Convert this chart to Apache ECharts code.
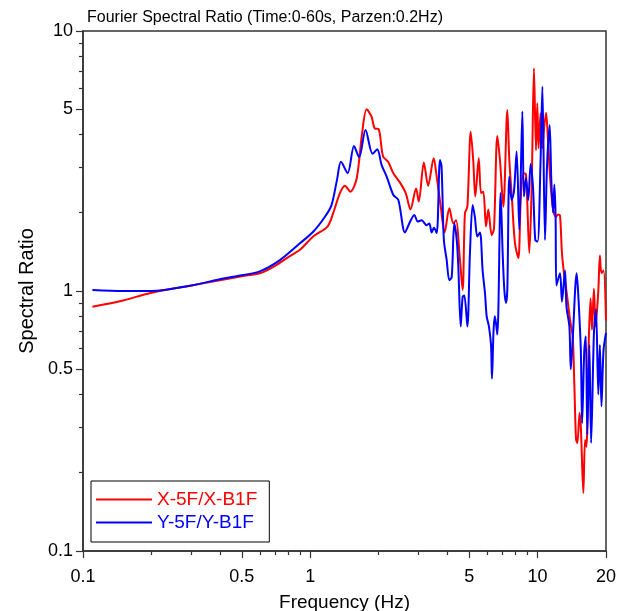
<!DOCTYPE html>
<html>
<head>
<meta charset="utf-8">
<script src="https://cdn.jsdelivr.net/npm/echarts@6/dist/echarts.min.js"></script>
<style>
  html, body { margin: 0; padding: 0; background: #fff; }
  #chart { width: 617px; height: 611px; }
</style>
</head>
<body>
<div id="chart"></div>
<script>
// X-5F/X-B1F (red)
const freqX = [0.11, 0.15, 0.2, 0.3, 0.4, 0.5, 0.6, 0.7, 0.8, 0.9, 1.03, 1.19, 1.26, 1.35, 1.42, 1.5, 1.6, 1.69, 1.77, 1.86, 1.92, 2.0,
  2.09, 2.2, 2.32, 2.49, 2.63, 2.76, 2.92, 3.0, 3.16, 3.3, 3.49, 3.6, 3.75, 3.9, 4.09, 4.26, 4.38, 4.53, 4.68, 4.79, 4.91,
  5.08, 5.21, 5.32, 5.51, 5.64, 5.77, 5.93, 6.07, 6.28, 6.43, 6.65, 6.83, 7.07, 7.36, 7.51, 7.72, 7.95, 8.23, 8.43, 8.66,
  8.89, 9.2, 9.42, 9.64, 9.84, 9.97, 10.1, 10.3, 10.5, 10.7, 10.9, 11.1, 11.3, 11.65, 12.05, 12.3, 12.55, 12.8, 13.07,
  13.5, 13.9, 14.27, 14.5, 14.76, 14.96, 15.3, 15.5, 15.9, 16.17, 16.4, 16.8, 17.1, 17.35, 17.7, 18.0, 18.5, 18.8, 19.1, 19.5, 20]
const ratioX = [0.87, 0.92, 0.985, 1.05, 1.1, 1.14, 1.17, 1.25, 1.35, 1.44, 1.62, 1.77, 1.99, 2.38, 2.54, 2.41, 2.71, 4.04, 5.0, 4.68, 4.22, 4.19,
  3.29, 3.14, 2.84, 2.6, 2.38, 2.06, 2.48, 2.21, 3.12, 2.54, 3.24, 2.75, 2.11, 1.68, 2.08, 1.82, 1.87, 1.4, 1.01, 1.99, 2.11,
  4.1, 3.19, 2.31, 3.24, 2.38, 2.41, 1.77, 2.06, 1.64, 1.74, 3.95, 3.19, 2.11, 4.97, 3.19, 2.24, 1.53, 1.34, 2.24, 2.84,
  2.81, 1.4, 2.52, 7.19, 3.48, 5.27, 3.54, 4.82, 3.54, 4.29, 4.85, 3.87, 2.92, 2.11, 1.93, 1.97, 1.95, 1.4, 1.17,
  0.95, 0.77, 0.67, 0.45, 0.27, 0.26, 0.34, 0.3, 0.167, 0.267, 0.252, 0.648, 0.937, 0.71, 1.02, 0.73, 1.0, 1.37, 1.17, 1.2, 0.77]

// Y-5F/Y-B1F (blue)
const freqY = [0.11, 0.15, 0.2, 0.3, 0.4, 0.5, 0.6, 0.735, 0.9, 1.03, 1.16, 1.24, 1.31, 1.365, 1.46, 1.557, 1.64, 1.75, 1.88, 1.97,
  2.06, 2.17, 2.32, 2.44, 2.61, 2.75, 2.87, 2.97, 3.09, 3.25, 3.34, 3.42, 3.5, 3.6, 3.72, 3.78, 3.87, 3.98, 4.09, 4.19, 4.3,
  4.41, 4.48, 4.59, 4.68, 4.76, 4.91, 5.04, 5.18, 5.3, 5.43, 5.58, 5.73, 5.87, 5.97, 6.11, 6.24, 6.3, 6.4, 6.49, 6.65, 6.88,
  7.02, 7.14, 7.26, 7.36, 7.51, 7.69, 7.87, 8.09, 8.31, 8.57, 8.71, 8.89, 9.1, 9.32, 9.55, 9.77, 10.0, 10.3, 10.5, 10.78,
  11.0, 11.3, 11.5, 11.7, 11.85, 12.0, 12.1, 12.55, 12.8, 13.2, 13.4, 13.8, 14.0, 14.27, 14.86, 15.1, 15.5, 15.7, 16.05,
  16.3, 16.55, 16.9, 17.2, 17.7, 18.07, 18.5, 18.8, 19.1, 19.5, 20]
const ratioY = [1.01, 1.0, 1.0, 1.05, 1.11, 1.15, 1.19, 1.315, 1.525, 1.69, 1.93, 2.14, 2.67, 3.14, 2.84, 3.61, 3.27, 4.16, 3.37, 3.51,
  3.05, 2.75, 2.34, 2.24, 1.68, 1.85, 1.96, 1.85, 1.87, 1.79, 1.82, 1.68, 1.75, 1.67, 3.19, 3.01, 1.57, 1.32, 1.1, 1.13, 1.82,
  1.57, 1.24, 0.73, 0.95, 0.96, 0.73, 1.4, 2.14, 1.92, 1.62, 1.68, 1.2, 0.98, 0.8, 0.73, 0.62, 0.46, 0.7, 0.8, 0.68, 2.38,
  1.4, 1.01, 0.9, 1.01, 2.75, 2.24, 2.41, 3.44, 1.72, 4.9, 2.31, 2.72, 2.24, 3.08, 2.5, 1.57, 1.55, 3.1, 6.11, 1.57,
  3.0, 4.35, 2.63, 2.0, 2.57, 1.93, 1.05, 1.17, 0.91, 1.2, 0.87, 0.73, 0.5, 0.65, 1.17, 0.97, 0.59, 0.31, 0.59,
  0.67, 0.28, 0.62, 0.26, 0.69, 0.85, 0.4, 0.62, 0.36, 0.59, 0.69]

const xLabelTicks = [0.1, 0.5, 1, 5, 10, 20]
const xMinorTicks = [0.2, 0.3, 0.4, 0.6, 0.7, 0.8, 0.9, 2, 3, 4, 6, 7, 8, 9]
const yLabelTicks = [0.1, 0.5, 1, 5, 10]
const yMinorTicks = [0.2, 0.3, 0.4, 0.6, 0.7, 0.8, 0.9, 2, 3, 4, 6, 7, 8, 9]

const FONT = '"Liberation Sans", Arial, sans-serif'
const chart = echarts.init(document.getElementById('chart'), null, { renderer: 'canvas' })

const axisCommon = {
  type: 'log',
  logBase: 10,
  splitLine: { show: false },
  minorTick: { show: false },
  axisLine: { show: true, lineStyle: { color: '#333', width: 1.5 } }
}

chart.setOption({
  animation: false,
  backgroundColor: '#fff',
  title: {
    text: 'Fourier Spectral Ratio (Time:0-60s, Parzen:0.2Hz)',
    left: 82,
    top: 5,
    textStyle: { fontFamily: FONT, fontSize: 16, fontWeight: 'normal', color: '#000' }
  },
  grid: {
    left: 83, right: 11, top: 31, bottom: 60,
    outerBoundsMode: 'none',
    containLabel: false,
    show: true, borderColor: '#333', borderWidth: 1.5, backgroundColor: 'transparent'
  },
  legend: {
    orient: 'vertical',
    left: 91,
    top: 481,
    padding: [7, 12, 8, 5],
    icon: 'rect',
    itemWidth: 56,
    itemHeight: 2,
    itemGap: 0,
    borderColor: '#000',
    borderWidth: 1,
    backgroundColor: '#fff',
    data: [
      { name: 'X-5F/X-B1F', textStyle: { color: '#ff0000' } },
      { name: 'Y-5F/Y-B1F', textStyle: { color: '#0000ff' } }
    ],
    textStyle: { fontFamily: FONT, fontSize: 19, lineHeight: 23 }
  },
  xAxis: [
    {
      ...axisCommon,
      min: 0.1, max: 20,
      name: 'Frequency (Hz)',
      nameLocation: 'middle',
      nameGap: 42,
      nameTextStyle: { fontFamily: FONT, fontSize: 19, color: '#000' },
      axisTick: { show: true, length: 7, customValues: xLabelTicks, lineStyle: { color: '#333', width: 1.2 } },
      axisLabel: { customValues: xLabelTicks, margin: 17, fontFamily: FONT, fontSize: 18, color: '#000',
        formatter: v => String(+v.toPrecision(3)) }
    },
    {
      ...axisCommon,
      min: 0.1, max: 20,
      position: 'bottom',
      axisLine: { show: false },
      axisTick: { show: true, length: 4, customValues: xMinorTicks, lineStyle: { color: '#333', width: 1.2 } },
      axisLabel: { show: false }
    }
  ],
  yAxis: [
    {
      ...axisCommon,
      min: 0.1, max: 10,
      name: 'Spectral Ratio',
      nameLocation: 'middle',
      nameGap: 41,
      nameTextStyle: { fontFamily: FONT, fontSize: 20, color: '#000' },
      axisTick: { show: true, length: 7, customValues: yLabelTicks, lineStyle: { color: '#333', width: 1.2 } },
      axisLabel: { customValues: yLabelTicks, margin: 10, fontFamily: FONT, fontSize: 18, color: '#000',
        formatter: v => String(+v.toPrecision(3)) }
    },
    {
      ...axisCommon,
      min: 0.1, max: 10,
      position: 'left',
      axisLine: { show: false },
      axisTick: { show: true, length: 4, customValues: yMinorTicks, lineStyle: { color: '#333', width: 1.2 } },
      axisLabel: { show: false }
    }
  ],
  series: [
    {
      name: 'X-5F/X-B1F',
      type: 'line',
      symbol: 'none',
      smooth: 0.3,
      data: freqX.map((f, i) => [f, ratioX[i]]),
      lineStyle: { color: '#ff0000', width: 2 },
      itemStyle: { color: '#ff0000' },
      z: 3
    },
    {
      name: 'Y-5F/Y-B1F',
      type: 'line',
      symbol: 'none',
      smooth: 0.3,
      data: freqY.map((f, i) => [f, ratioY[i]]),
      lineStyle: { color: '#0000ff', width: 2 },
      itemStyle: { color: '#0000ff' },
      z: 4
    },
    {
      // empty series so the minor-tick axes get laid out
      name: 'minor',
      type: 'line',
      xAxisIndex: 1,
      yAxisIndex: 1,
      symbol: 'none',
      silent: true,
      data: []
    }
  ]
})
</script>
</body>
</html>
